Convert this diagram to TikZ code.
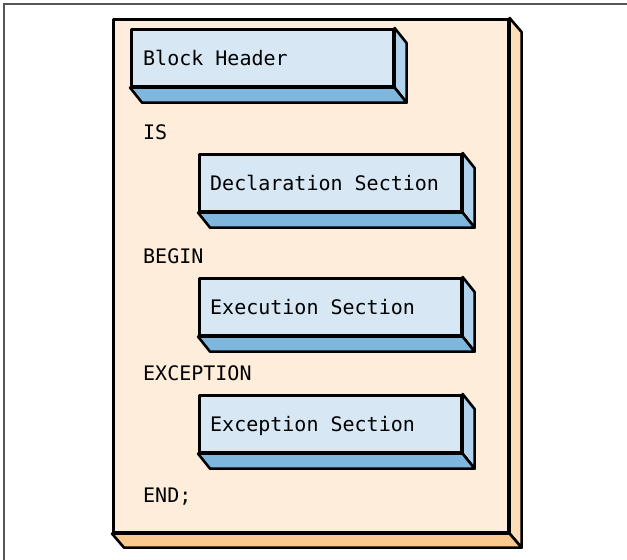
\documentclass[tikz,border=0pt]{standalone}
\usepackage{fontspec}
\setmonofont{DejaVu Sans Mono}
\definecolor{pagefront}{HTML}{FEEDDA}
\definecolor{pageside}{HTML}{FDDCB8}
\definecolor{pagebottom}{HTML}{FBC88F}
\definecolor{slabfront}{HTML}{D7E8F4}
\definecolor{slabside}{HTML}{AFD3EC}
\definecolor{slabbottom}{HTML}{7EB6DE}
\definecolor{framegray}{HTML}{555555}

% extruded faces (right side and bottom) of a box node
\newcommand\extrude[5]{%
  \filldraw[fill=#2, face] (#1.north east) -- ++(#4,#5)
     -- ([shift={(#4,#5)}]#1.south east) -- (#1.south east) -- cycle;
  \filldraw[fill=#3, face] (#1.south west) -- (#1.south east)
     -- ([shift={(#4,#5)}]#1.south east) -- ([shift={(#4,#5)}]#1.south west) -- cycle;
}

\begin{document}
\begin{tikzpicture}[x=1pt, y=-1pt,
  face/.style={draw=black, line width=2.6pt, line join=round},
  codefont/.style={font=\ttfamily\fontsize{20}{22}\selectfont},
  page/.style={face, fill=pagefront, anchor=north west, inner sep=0pt},
  slab/.style={face, fill=slabfront, anchor=north west, inner sep=0pt,
    minimum width=262pt, minimum height=57pt},
  keyword/.style={codefont, anchor=base west, inner sep=0pt}]
\useasboundingbox (0,0) rectangle (627,560);

% thin frame lines at the picture edge
\draw[framegray, line width=1.5pt] (4,560) -- (4,4) -- (627,4);

% the page that holds the block
\node[page, minimum width=395pt, minimum height=513pt] (blk) at (112,18) {};
\extrude{blk}{pageside}{pagebottom}{12}{14}

% sections of the block, each a slab with its caption
\node[slab] (hdr) at (130,28) {};
\extrude{hdr}{slabside}{slabbottom}{12}{15}
\node[keyword] (hdrtxt) at ([shift={(13,37)}]hdr.north west) {Block Header};
\node[keyword] (kis) at (143,139) {IS};

\node[slab] (decl) at (198,153) {};
\extrude{decl}{slabside}{slabbottom}{12}{15}
\node[keyword] (decltxt) at ([shift={(12,37)}]decl.north west) {Declaration Section};
\node[keyword] (kbegin) at (143,263) {BEGIN};

\node[slab] (exec) at (198,277) {};
\extrude{exec}{slabside}{slabbottom}{12}{15}
\node[keyword] (exectxt) at ([shift={(12,37)}]exec.north west) {Execution Section};
\node[keyword] (kexc) at (143,380) {EXCEPTION};

\node[slab] (excp) at (198,394) {};
\extrude{excp}{slabside}{slabbottom}{12}{15}
\node[keyword] (excptxt) at ([shift={(12,37)}]excp.north west) {Exception Section};
\node[keyword] (kend) at (143,502) {END;};
\end{tikzpicture}
\end{document}
